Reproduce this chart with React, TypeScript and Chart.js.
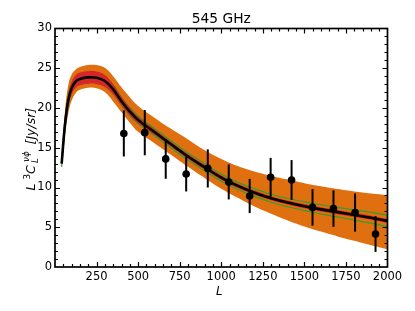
import React, { useEffect, useRef } from "react";
import { Chart, registerables } from "chart.js";
Chart.register(...registerables);

const TITLE = "545 GHz";
const X_LABEL = "L";
const X_TICKS = [250, 500, 750, 1000, 1250, 1500, 1750, 2000];
const Y_TICKS = [0, 5, 10, 15, 20, 25, 30];

const L_GRID = [40, 60, 80, 100, 125, 150, 200, 250, 300, 350, 400, 450, 500, 600, 700, 800, 900, 1000, 1100, 1200, 1300, 1400, 1500, 1600, 1700, 1800, 1900, 2000];
const MODEL = [13.0, 17.9, 21.0, 22.5, 23.35, 23.65, 23.85, 23.8, 23.4, 22.35, 20.85, 19.55, 18.5, 16.95, 15.4, 13.9, 12.55, 11.25, 10.2, 9.35, 8.65, 8.1, 7.65, 7.25, 6.9, 6.55, 6.2, 5.8];
const RED_HI = [13.4, 18.6, 21.8, 23.3, 24.15, 24.45, 24.65, 24.6, 24.15, 23.0, 21.4, 20.03, 18.92, 17.31, 15.72, 14.2, 12.85, 11.53, 10.47, 9.61, 8.91, 8.36, 7.91, 7.51, 7.16, 6.81, 6.46, 6.06];
const RED_LO = [12.4, 17.2, 20.2, 21.7, 22.55, 22.85, 23.05, 23.0, 22.65, 21.7, 20.3, 19.07, 18.08, 16.59, 15.08, 13.6, 12.25, 10.97, 9.93, 9.09, 8.39, 7.84, 7.39, 6.99, 6.64, 6.29, 5.94, 5.54];
const GREEN_HI = [13.4, 18.45, 21.6, 23.1, 23.95, 24.25, 24.45, 24.4, 24.0, 22.9, 21.35, 20.05, 19.0, 17.4, 15.85, 14.35, 13.0, 11.7, 10.65, 9.82, 9.15, 8.62, 8.2, 7.83, 7.5, 7.2, 6.88, 6.52];
const GREEN_LO = [12.6, 17.35, 20.4, 21.9, 22.75, 23.05, 23.25, 23.2, 22.8, 21.8, 20.35, 19.05, 18.0, 16.5, 14.95, 13.45, 12.1, 10.8, 9.75, 8.88, 8.15, 7.58, 7.1, 6.67, 6.3, 5.9, 5.52, 5.08];
const ORANGE_HI = [13.6, 19.6, 22.9, 24.2, 24.85, 25.15, 25.4, 25.4, 25.05, 24.0, 22.6, 21.35, 20.25, 18.75, 17.35, 16.05, 14.7, 13.6, 12.7, 12.0, 11.45, 11.0, 10.55, 10.15, 9.8, 9.5, 9.25, 9.05];
const ORANGE_LO = [12.4, 16.5, 19.3, 20.9, 21.9, 22.3, 22.55, 22.5, 22.0, 20.8, 19.45, 18.15, 17.0, 15.55, 14.1, 12.6, 11.2, 9.85, 8.7, 7.6, 6.7, 5.85, 5.1, 4.45, 3.85, 3.3, 2.75, 2.25];

const DATA_L = [414, 540, 666, 789, 919, 1045, 1171, 1297, 1423, 1549, 1675, 1805, 1928];
const DATA_V = [16.8, 16.9, 13.6, 11.7, 12.4, 10.7, 8.93, 11.28, 10.95, 7.5, 7.35, 6.85, 4.15];
const DATA_ERR = [2.9, 2.85, 2.5, 2.2, 2.4, 2.2, 2.15, 2.45, 2.5, 2.3, 2.3, 2.4, 2.25];

const ORANGE = "#e0700f";
const RED = "#d62728";
const GREEN = "#2ca02c";
const FONT = "'DejaVu Sans', sans-serif";
const TENSION = 0.4;

const toXY = (ys: number[]) => L_GRID.map((x, i) => ({ x, y: ys[i] }));

const band = (data: number[], order: number, fill: any, color: string) => ({
  type: "line" as const,
  data: toXY(data),
  borderWidth: 0,
  borderColor: "rgba(0,0,0,0)",
  backgroundColor: color,
  pointRadius: 0,
  fill,
  order,
  tension: TENSION,
});

const frameTicksPlugin = {
  id: "frameTicks",
  afterDatasetsDraw(chart: any) {
    const { ctx, scales } = chart;
    const xs = scales.x;
    const ys = scales.y;
    ctx.save();
    ctx.strokeStyle = "#000";
    ctx.lineWidth = 2;
    DATA_L.forEach((l, i) => {
      const px = xs.getPixelForValue(l);
      ctx.beginPath();
      ctx.moveTo(px, ys.getPixelForValue(DATA_V[i] - DATA_ERR[i]));
      ctx.lineTo(px, ys.getPixelForValue(DATA_V[i] + DATA_ERR[i]));
      ctx.stroke();
    });
    ctx.restore();
  },
  afterDraw(chart: any) {
    const { ctx, chartArea: a, scales } = chart;
    const xs = scales.x;
    const ys = scales.y;
    ctx.save();
    ctx.strokeStyle = "#000";
    ctx.lineWidth = 1.2;
    const major = 5;
    const minor = 3;
    ctx.beginPath();
    for (let v = 50; v < 2000; v += 50) {
      const px = Math.round(xs.getPixelForValue(v)) + 0.5;
      const len = v % 250 === 0 ? major : minor;
      ctx.moveTo(px, a.bottom);
      ctx.lineTo(px, a.bottom - len);
      ctx.moveTo(px, a.top);
      ctx.lineTo(px, a.top + len);
    }
    for (let v = 1; v < 30; v += 1) {
      const py = Math.round(ys.getPixelForValue(v)) + 0.5;
      const len = v % 5 === 0 ? major : minor;
      ctx.moveTo(a.left, py);
      ctx.lineTo(a.left + len, py);
      ctx.moveTo(a.right, py);
      ctx.lineTo(a.right - len, py);
    }
    ctx.stroke();
    ctx.lineWidth = 1.7;
    ctx.strokeRect(a.left, a.top, a.right - a.left, a.bottom - a.top);

    ctx.fillStyle = "#000";
    ctx.textBaseline = "alphabetic";
    ctx.textAlign = "center";
    ctx.font = `13.8px ${FONT}`;
    ctx.fillText(TITLE, (a.left + a.right) / 2, 23.4);
    ctx.font = `italic 11.8px ${FONT}`;
    ctx.fillText(X_LABEL, (a.left + a.right) / 2 - 2, 295);

    ctx.translate(35.3, 190.5);
    ctx.rotate(-Math.PI / 2);
    ctx.textAlign = "left";
    const big = `italic 12.5px ${FONT}`;
    const small = `italic 8.8px ${FONT}`;
    const smallUp = `8.8px ${FONT}`;
    ctx.font = big;
    ctx.fillText("L", 0, 0);
    ctx.font = smallUp;
    ctx.fillText("3", 11, -5.5);
    ctx.font = big;
    ctx.fillText("C", 16.5, 0);
    ctx.font = small;
    ctx.fillText("L", 27.5, 3);
    ctx.fillText("νϕ", 28.5, -6.5);
    ctx.font = big;
    ctx.fillText("[Jy/sr]", 46, 0);
    ctx.restore();
  },
};

export default function App() {
  const ref = useRef<HTMLCanvasElement | null>(null);
  useEffect(() => {
    if (!ref.current) return;
    const tickFont = { family: FONT, size: 11.5 };
    const line = (data: number[], color: string, width: number, order: number) => ({
      type: "line",
      data: toXY(data),
      borderColor: color,
      borderWidth: width,
      pointRadius: 0,
      fill: false,
      order,
      tension: TENSION,
    });
    const chart = new Chart(ref.current, {
      type: "line",
      data: {
        datasets: [
          band(ORANGE_LO, 10, false, ORANGE),
          band(ORANGE_HI, 9, "-1", ORANGE),
          line(GREEN_HI, GREEN, 1.2, 8),
          line(GREEN_LO, GREEN, 1.2, 8),
          band(RED_LO, 7, false, RED),
          band(RED_HI, 6, "-1", RED),
          line(MODEL, "#000", 2.6, 5),
          {
            type: "scatter",
            data: DATA_L.map((x, i) => ({ x, y: DATA_V[i] })),
            backgroundColor: "#000",
            borderColor: "#000",
            borderWidth: 0,
            pointRadius: 3.8,
            order: 0,
          },
        ],
      },
      options: {
        animation: false,
        responsive: true,
        maintainAspectRatio: false,
        layout: { padding: { left: 0, right: 27.5, top: 28.5, bottom: 0 } },
        plugins: { legend: { display: false }, tooltip: { enabled: false }, title: { display: false } },
        scales: {
          x: {
            type: "linear",
            min: 0,
            max: 2000,
            grid: { display: false, drawTicks: false },
            border: { display: false },
            afterFit: (s: any) => {
              s.height = 44;
            },
            afterBuildTicks: (s: any) => {
              s.ticks = X_TICKS.map((v) => ({ value: v }));
            },
            ticks: {
              font: tickFont,
              color: "#000",
              padding: 3,
              maxRotation: 0,
              autoSkip: false,
              callback: (v: any) => String(v),
            },
          },
          y: {
            type: "linear",
            min: 0,
            max: 30,
            grid: { display: false, drawTicks: false },
            border: { display: false },
            afterFit: (s: any) => {
              s.width = 55;
            },
            afterBuildTicks: (s: any) => {
              s.ticks = Y_TICKS.map((v) => ({ value: v }));
            },
            ticks: { font: tickFont, color: "#000", padding: 3, callback: (v: any) => String(v) },
          },
        },
      },
      plugins: [frameTicksPlugin],
    } as any);
    return () => chart.destroy();
  }, []);
  return (
    <div style={{ position: "absolute", left: 0, top: 0, width: 415, height: 311, background: "#fff" }}>
      <canvas ref={ref} />
    </div>
  );
}
